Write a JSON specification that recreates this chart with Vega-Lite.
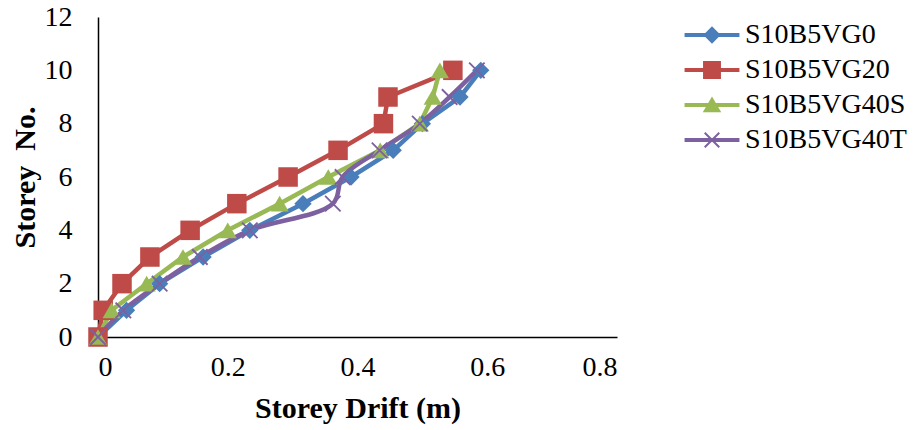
{
  "$schema": "https://vega.github.io/schema/vega-lite/v6.json",
  "width": 519,
  "height": 320,
  "autosize": "none",
  "padding": {"left": 98, "top": 17, "right": 300, "bottom": 93},
  "background": "white",
  "config": {
    "view": {"stroke": null},
    "font": "Liberation Serif",
    "axis": {"domainColor": "black", "domainWidth": 1.5, "ticks": false, "grid": false, "labelFont": "Liberation Serif", "labelFontSize": 28, "labelColor": "black", "titleFont": "Liberation Serif", "titleFontSize": 30, "titleColor": "black", "titleFontWeight": "bold"},
    "legend": {"labelLimit": 400}
  },
  "data": {"values": [
    {"series": "S10B5VG0", "storey": 0, "drift": 0},
    {"series": "S10B5VG0", "storey": 1, "drift": 0.044},
    {"series": "S10B5VG0", "storey": 2, "drift": 0.095},
    {"series": "S10B5VG0", "storey": 3, "drift": 0.162},
    {"series": "S10B5VG0", "storey": 4, "drift": 0.234},
    {"series": "S10B5VG0", "storey": 5, "drift": 0.316},
    {"series": "S10B5VG0", "storey": 6, "drift": 0.39},
    {"series": "S10B5VG0", "storey": 7, "drift": 0.455},
    {"series": "S10B5VG0", "storey": 8, "drift": 0.5},
    {"series": "S10B5VG0", "storey": 9, "drift": 0.558},
    {"series": "S10B5VG0", "storey": 10, "drift": 0.59},
    {"series": "S10B5VG20", "storey": 0, "drift": 0},
    {"series": "S10B5VG20", "storey": 1, "drift": 0.008},
    {"series": "S10B5VG20", "storey": 2, "drift": 0.037},
    {"series": "S10B5VG20", "storey": 3, "drift": 0.08},
    {"series": "S10B5VG20", "storey": 4, "drift": 0.142},
    {"series": "S10B5VG20", "storey": 5, "drift": 0.214},
    {"series": "S10B5VG20", "storey": 6, "drift": 0.293},
    {"series": "S10B5VG20", "storey": 7, "drift": 0.37},
    {"series": "S10B5VG20", "storey": 8, "drift": 0.44},
    {"series": "S10B5VG20", "storey": 9, "drift": 0.447},
    {"series": "S10B5VG20", "storey": 10, "drift": 0.547},
    {"series": "S10B5VG40S", "storey": 0, "drift": 0},
    {"series": "S10B5VG40S", "storey": 1, "drift": 0.021},
    {"series": "S10B5VG40S", "storey": 2, "drift": 0.075},
    {"series": "S10B5VG40S", "storey": 3, "drift": 0.131},
    {"series": "S10B5VG40S", "storey": 4, "drift": 0.2},
    {"series": "S10B5VG40S", "storey": 5, "drift": 0.28},
    {"series": "S10B5VG40S", "storey": 6, "drift": 0.355},
    {"series": "S10B5VG40S", "storey": 7, "drift": 0.435},
    {"series": "S10B5VG40S", "storey": 8, "drift": 0.496},
    {"series": "S10B5VG40S", "storey": 9, "drift": 0.516},
    {"series": "S10B5VG40S", "storey": 10, "drift": 0.527},
    {"series": "S10B5VG40T", "storey": 0, "drift": 0},
    {"series": "S10B5VG40T", "storey": 1, "drift": 0.039},
    {"series": "S10B5VG40T", "storey": 2, "drift": 0.095},
    {"series": "S10B5VG40T", "storey": 3, "drift": 0.157},
    {"series": "S10B5VG40T", "storey": 4, "drift": 0.234},
    {"series": "S10B5VG40T", "storey": 5, "drift": 0.362},
    {"series": "S10B5VG40T", "storey": 6, "drift": 0.377},
    {"series": "S10B5VG40T", "storey": 7, "drift": 0.434},
    {"series": "S10B5VG40T", "storey": 8, "drift": 0.496},
    {"series": "S10B5VG40T", "storey": 9, "drift": 0.542},
    {"series": "S10B5VG40T", "storey": 10, "drift": 0.584}
  ]},
  "encoding": {
    "x": {"field": "drift", "type": "quantitative", "scale": {"domain": [0, 0.8], "nice": false, "zero": false}, "axis": {"values": [0, 0.2, 0.4, 0.6, 0.8], "format": "~g", "title": "Storey Drift (m)", "labelPadding": 16, "titlePadding": 12}},
    "y": {"field": "storey", "type": "quantitative", "scale": {"domain": [0, 12], "nice": false}, "axis": {"values": [0, 2, 4, 6, 8, 10, 12], "title": "Storey\u00a0\u00a0No.", "labelPadding": 26, "titlePadding": 4}},
    "order": {"field": "storey", "type": "quantitative"}
  },
  "layer": [
    {
      "transform": [{"filter": "datum.series !== 'S10B5VG40T'"}],
      "mark": {"type": "line", "strokeWidth": 4.5, "interpolate": "linear"},
      "encoding": {
        "color": {"field": "series", "type": "nominal", "scale": {"domain": ["S10B5VG0", "S10B5VG20", "S10B5VG40S", "S10B5VG40T"], "range": ["#4A7EBB", "#BE4B48", "#98B954", "#7D60A0"]}, "legend": {
          "orient": "none", "legendX": 600, "legendY": 4, "title": null, "padding": 0,
          "labelFont": "Liberation Serif", "labelFontSize": 28, "labelColor": "black", "labelLimit": 400,
          "symbolSize": 784, "labelOffset": 19, "rowPadding": 7, "symbolStrokeWidth": 0,
          "values": ["S10B5VG0", "S10B5VG20", "S10B5VG40S", "S10B5VG40T"]
        }},
        "detail": {"field": "series"}
      }
    },
    {
      "transform": [{"filter": "datum.series === 'S10B5VG40T'"}],
      "mark": {"type": "line", "strokeWidth": 4.5, "interpolate": "catmull-rom"},
      "encoding": {
        "color": {"field": "series", "type": "nominal"}
      }
    },
    {
      "transform": [{"filter": "false"}],
      "mark": {"type": "point", "filled": true, "opacity": 1, "size": 784},
      "encoding": {
        "color": {"field": "series", "type": "nominal"},
        "shape": {"field": "series", "type": "nominal", "scale": {"domain": ["S10B5VG0", "S10B5VG20", "S10B5VG40S", "S10B5VG40T"], "range": [
          "M-1.96,-0.15L1.96,-0.15L1.96,0.15L-1.96,0.15Z M0,-0.62L0.62,0L0,0.62L-0.62,0Z",
          "M-1.96,-0.15L1.96,-0.15L1.96,0.15L-1.96,0.15Z M-0.64,-0.64L0.64,-0.64L0.64,0.64L-0.64,0.64Z",
          "M-1.96,-0.15L1.96,-0.15L1.96,0.15L-1.96,0.15Z M0,-0.6L0.66,0.52L-0.66,0.52Z",
          "M-1.96,-0.15L1.96,-0.15L1.96,0.15L-1.96,0.15Z M-0.47,-0.57L0.57,0.47L0.47,0.57L-0.57,-0.47Z M-0.57,0.47L0.47,-0.57L0.57,-0.47L-0.47,0.57Z"
        ]}}
      }
    },
    {
      "transform": [{"filter": "datum.series === 'S10B5VG0'"}],
      "mark": {"type": "point", "filled": true, "opacity": 1, "shape": "diamond", "size": 300, "color": "#4A7EBB"}
    },
    {
      "transform": [{"filter": "datum.series === 'S10B5VG20'"}],
      "mark": {"type": "point", "filled": true, "opacity": 1, "shape": "square", "size": 380, "color": "#BE4B48"}
    },
    {
      "transform": [{"filter": "datum.series === 'S10B5VG40S'"}],
      "mark": {"type": "point", "filled": true, "opacity": 1, "shape": "triangle-up", "size": 330, "color": "#98B954"}
    },
    {
      "transform": [{"filter": "datum.series === 'S10B5VG40T'"}],
      "mark": {"type": "point", "filled": false, "opacity": 1, "shape": "M-1,-1L1,1M-1,1L1,-1", "size": 240, "strokeWidth": 1.8, "color": "#7D60A0"}
    }
  ]
}
